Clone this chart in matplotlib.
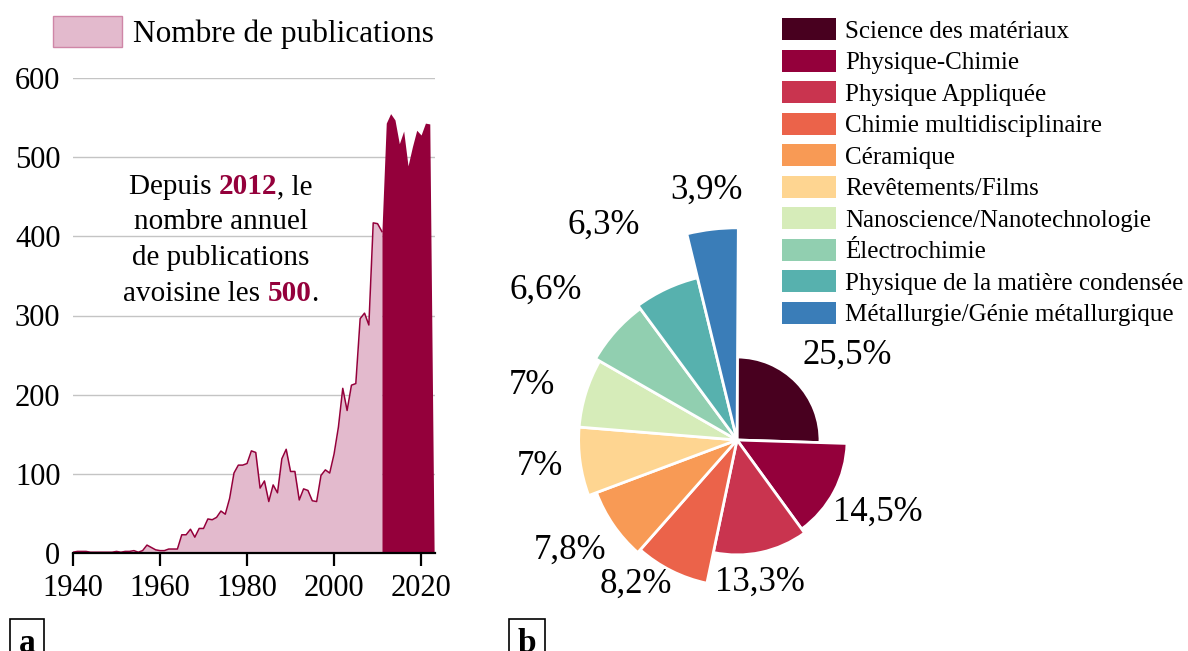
import numpy as np
import matplotlib
matplotlib.use("Agg")
from matplotlib import pyplot as plt
from matplotlib.patches import Wedge, Patch
from matplotlib.offsetbox import TextArea, HPacker, VPacker, AnchoredOffsetbox

plt.rcParams['font.family'] = ['Liberation Serif', 'DejaVu Serif']

# --- données (a) : publications annuelles ---
annees = np.arange(1940, 2024)
publications = [1, 2, 2, 2, 1, 1, 1, 1, 1, 1, 2, 1, 2, 2, 3, 1, 3, 10, 7, 4, 3, 3, 5, 5, 5,
                23, 23, 30, 20, 31, 31, 43, 42, 45, 53, 49, 69, 101, 111, 111, 113, 129, 127,
                82, 91, 65, 86, 76, 119, 131, 103,
                103, 67, 81, 79, 66, 65, 98, 105, 101, 125, 159, 208, 180, 212, 214, 296, 303,
                288, 417, 416, 406,
                543, 555, 547, 517, 533, 489, 513, 534, 528, 543, 542, 0]
annee_seuil = 2011
y_ticks = [0, 100, 200, 300, 400, 500, 600]
x_ticks = [1940, 1960, 1980, 2000, 2020]

# --- données (b) : domaines ---
domaines = ["Science des matériaux", "Physique-Chimie", "Physique Appliquée",
            "Chimie multidisciplinaire", "Céramique", "Revêtements/Films",
            "Nanoscience/Nanotechnologie", "Électrochimie",
            "Physique de la matière condensée", "Métallurgie/Génie métallurgique"]
parts = [25.5, 14.5, 13.3, 8.2, 7.8, 7.0, 7.0, 6.6, 6.3, 3.9]
etiquettes = ["25,5%", "14,5%", "13,3%", "8,2%", "7,8%", "7%", "7%", "6,6%", "6,3%", "3,9%"]
couleurs = ["#48001f", "#94003b", "#c9344f", "#eb634a", "#f89a55", "#fed591",
            "#d6ecb9", "#91cfb0", "#57b1ae", "#3a7db8"]
# mise en page des étiquettes : écart radial (px) et décalage angulaire (deg)
ecart_etiq = [56, 48, 29, 30, 50, 40, 54, 80, 86, 40]
decal_angle = [-6.4, 0.8, -2.9, -8.3, -1.2, -0.2, 2.5, 3.7, 6.7, 0.4]

ROSE = "#e3bacd"
BORDEAUX = "#94003b"

W, H = 1188, 651
fig = plt.figure(figsize=(W / 100, H / 100), dpi=100)

# ---------- panneau a ----------
ax1 = fig.add_axes([73 / W, 1 - 553 / H, (435 - 73) / W, (553 - 78) / H])
pub = np.asarray(publications)
clair = annees <= annee_seuil
fonce = annees >= annee_seuil
ax1.fill_between(annees[clair], pub[clair], color=ROSE, lw=0, zorder=2)
ax1.plot(annees[clair], pub[clair], color=BORDEAUX, lw=1.1, zorder=3)
ax1.fill_between(annees[fonce], pub[fonce], color=BORDEAUX, lw=0, zorder=4)

ax1.set_xlim(1940, 2023.2)
ax1.set_ylim(0, 600)
ax1.set_yticks(y_ticks)
ax1.set_xticks(x_ticks)
ax1.grid(axis='y', color='#c4c4c4', lw=1.0, zorder=1)
ax1.set_axisbelow(True)
for s in ['top', 'right', 'left']:
    ax1.spines[s].set_visible(False)
ax1.spines['bottom'].set_linewidth(1.6)
ax1.spines['bottom'].set_zorder(5)
ax1.tick_params(axis='y', length=0, pad=9, labelsize=22)
ax1.tick_params(axis='x', length=9, width=1.6, pad=6, labelsize=22)

ax1.legend(handles=[Patch(facecolor=ROSE, edgecolor='#cf86a7', lw=1)],
           labels=["Nombre de publications"], loc='upper left',
           bbox_to_anchor=(53 / W, 1 - 16 / H), bbox_transform=fig.transFigure,
           frameon=False, fontsize=22.5, borderpad=0, borderaxespad=0,
           handlelength=2.2, handleheight=1.15, handletextpad=0.35)

norm = dict(color='black', size=21)
gras = dict(color=BORDEAUX, size=21, weight='bold')
lignes = [
    [("Depuis ", norm), ("2012", gras), (", le", norm)],
    [("nombre annuel", norm)],
    [("de publications", norm)],
    [("avoisine les ", norm), ("500", gras), (".", norm)],
]
rangs = [HPacker(children=[TextArea(t, textprops=p) for t, p in l], sep=0, pad=0, align='baseline')
         for l in lignes]
bloc = VPacker(children=rangs, align='center', sep=6.6, pad=0)
ax1.add_artist(AnchoredOffsetbox(loc='center', child=bloc, frameon=False, pad=0, borderpad=0,
                                 bbox_to_anchor=(221 / W, 1 - 240 / H),
                                 bbox_transform=fig.transFigure))

# ---------- panneau b ----------
cx, cy = 737, 440
ax2 = fig.add_axes([500 / W, 0, (W - 500) / W, 1])
ax2.set_xlim(500 - cx, W - cx)
ax2.set_ylim(-(H - cy), cy)
ax2.axis('off')

K = 419.0
rayons = K / np.sqrt(np.asarray(parts))
cum = np.concatenate([[0], np.cumsum(parts)])
for i in range(len(parts)):
    t1 = 90 - cum[i + 1] * 3.6
    t2 = 90 - cum[i] * 3.6
    ax2.add_patch(Wedge((0, 0), rayons[i], t1, t2, facecolor=couleurs[i],
                        edgecolor='white', lw=2))
    mid = np.deg2rad((t1 + t2) / 2 + decal_angle[i])
    d = rayons[i] + ecart_etiq[i]
    ax2.text(d * np.cos(mid), d * np.sin(mid), etiquettes[i], fontsize=25,
             ha='center', va='center')

ax2.legend(handles=[Patch(facecolor=c, edgecolor='none') for c in couleurs],
           labels=domaines, loc='upper left',
           bbox_to_anchor=(782 / W, 1 - 18 / H), bbox_transform=fig.transFigure,
           frameon=False, fontsize=18, borderpad=0, borderaxespad=0,
           handlelength=2.15, handleheight=1.0, handletextpad=0.36, labelspacing=0.27)

# ---------- lettres a / b ----------
boite = dict(boxstyle='square,pad=0.25', facecolor='white', edgecolor='black', lw=1.2)
fig.text(27 / W, 1 - 643 / H, "a", fontsize=24, weight='bold', ha='center', va='center', bbox=boite)
fig.text(527 / W, 1 - 643 / H, "b", fontsize=24, weight='bold', ha='center', va='center', bbox=boite)

fig.savefig("out.png", dpi=100)
